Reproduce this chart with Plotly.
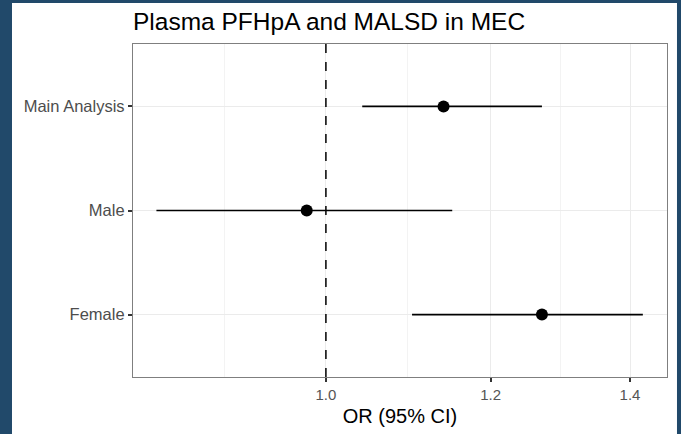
import plotly.graph_objects as go

categories = ["Main Analysis", "Male", "Female"]
or_est = [1.139, 0.979, 1.270]
ci_low = [1.041, 0.829, 1.100]
ci_high = [1.270, 1.150, 1.420]
x_ticks = [1.0, 1.2, 1.4]
x_tick_labels = ["1.0", "1.2", "1.4"]
x_minor = [0.894, 1.095, 1.296]

fig = go.Figure()
fig.add_trace(go.Scatter(
    x=or_est, y=categories, mode="markers",
    marker=dict(color="black", size=12),
    error_x=dict(type="data", symmetric=False,
                 array=[h - e for h, e in zip(ci_high, or_est)],
                 arrayminus=[e - l for e, l in zip(or_est, ci_low)],
                 width=0, thickness=1.7, color="black"),
    showlegend=False, cliponaxis=False,
))

fig.add_shape(type="rect", xref="paper", yref="paper",
              x0=-0.2266, x1=1.0187, y0=-0.2, y1=1.123,
              fillcolor="white", line=dict(width=0), layer="below")
fig.add_shape(type="line", xref="x", yref="paper", x0=1.0, x1=1.0, y0=0, y1=1,
              line=dict(color="black", width=1.5, dash="dash"))

font_family = "Liberation Sans, Arial, sans-serif"
fig.update_layout(
    width=681, height=434,
    margin=dict(l=133, r=14, t=44, b=57),
    paper_bgcolor="#21496a", plot_bgcolor="white",
    font=dict(family=font_family),
    title=dict(text="Plasma PFHpA and MALSD in MEC", x=133/681, xanchor="left",
               y=1 - 21/434, yanchor="middle",
               font=dict(size=24.5, color="black", family=font_family)),
    xaxis=dict(type="log", range=[-0.0927, 0.1639],
               tickvals=x_ticks, ticktext=x_tick_labels,
               showgrid=True, gridcolor="#ebebeb", gridwidth=1,
               minor=dict(tickvals=x_minor, showgrid=True, gridcolor="#f3f3f3", gridwidth=1, ticks=""),
               ticks="outside", ticklen=4, tickcolor="#333333", tickwidth=1.5,
               tickfont=dict(size=15, color="#555555"),
               showline=True, mirror=True, linecolor="#7f7f7f", linewidth=1.2,
               zeroline=False,
               title=dict(text="OR (95% CI)", font=dict(size=20, color="black"), standoff=6)),
    yaxis=dict(type="category", categoryorder="array",
               categoryarray=categories[::-1], range=[-0.6, 2.6],
               showgrid=True, gridcolor="#ebebeb", gridwidth=1,
               ticks="outside", ticklen=4, tickcolor="#333333", tickwidth=1.5,
               tickfont=dict(size=16.5, color="#4d4d4d"),
               showline=True, mirror=True, linecolor="#7f7f7f", linewidth=1.2,
               zeroline=False),
)

fig.write_html("out.html", config={"displayModeBar": False},
               post_script="document.body.style.margin='0';document.body.style.background='#21496a';")
